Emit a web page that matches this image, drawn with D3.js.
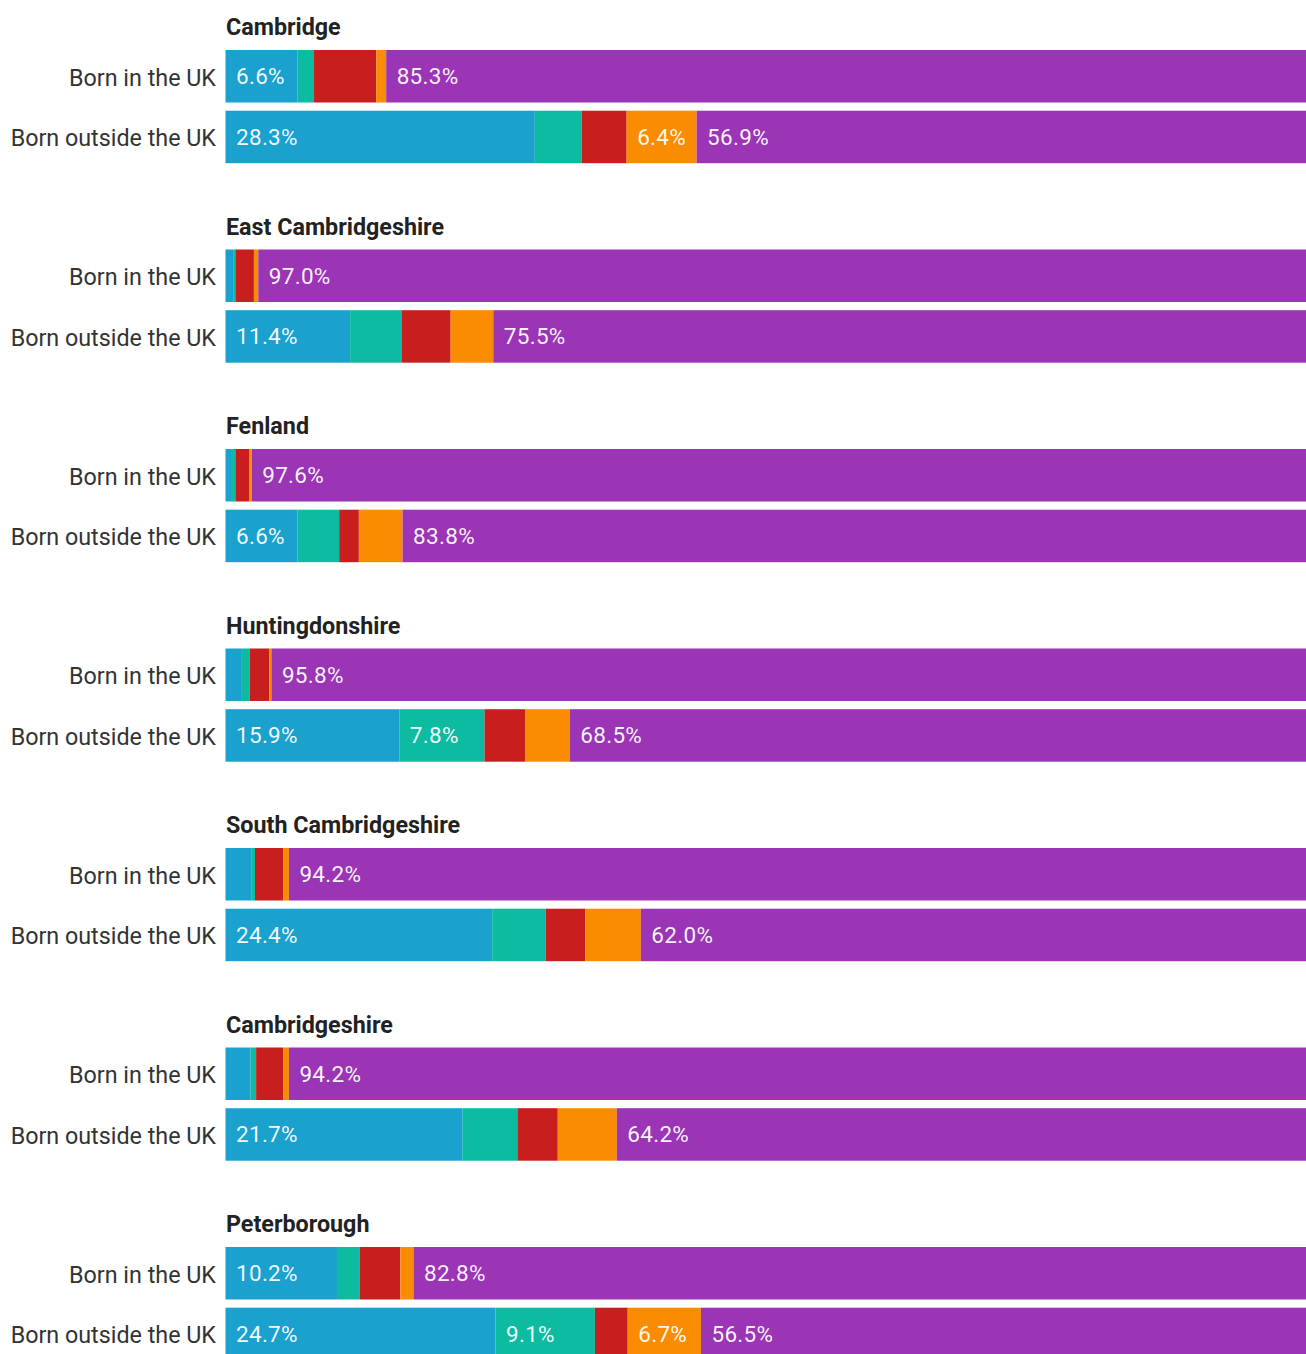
<!DOCTYPE html>
<html>
<head>
<meta charset="utf-8">
<script src="https://cdn.jsdelivr.net/npm/d3@7"></script>
<style>
  html, body { margin: 0; padding: 0; background: #fff; }
  svg { display: block; font-family: Roboto, "Noto Sans", sans-serif; }
</style>
</head>
<body>
<svg id="chart" width="1306" height="1354"></svg>
<script>
// Areas and the two birthplace rows shown for each
const areas = ["Cambridge", "East Cambridgeshire", "Fenland", "Huntingdonshire",
               "South Cambridgeshire", "Cambridgeshire", "Peterborough"];
const rows = ["Born in the UK", "Born outside the UK"];
const groups = ["Asian", "Black", "Mixed", "Other", "White"];

// Percentages per group, in area order, two rows per area (UK, outside UK)
const asian = [6.6, 28.3, 0.7, 11.4, 0.5, 6.6, 1.5, 15.9, 2.4, 24.4, 2.3, 21.7, 10.2, 24.7];
const black = [1.5, 4.3, 0.2, 4.7, 0.4, 3.8, 0.7, 7.8, 0.3, 4.9, 0.5, 5.0, 2.1, 9.1];
const mixed = [5.7, 4.1, 1.7, 4.5, 1.3, 1.8, 1.8, 3.7, 2.6, 3.6, 2.5, 3.7, 3.7, 3.0];
const other = [0.9, 6.4, 0.4, 3.9, 0.2, 4.0, 0.2, 4.1, 0.5, 5.1, 0.5, 5.4, 1.2, 6.7];
const white = [85.3, 56.9, 97.0, 75.5, 97.6, 83.8, 95.8, 68.5, 94.2, 62.0, 94.2, 64.2, 82.8, 56.5];

const colors = ["#1ba1ce", "#0dbba0", "#c81e1e", "#f98c00", "#9b35b6"];

const table = [];
areas.forEach((a, i) => rows.forEach((r, j) => {
  const k = i * 2 + j;
  table.push({ area: a, row: r, Asian: asian[k], Black: black[k], Mixed: mixed[k], Other: other[k], White: white[k] });
}));

const svg = d3.select("#chart");

const x = d3.scaleLinear().domain([0, 100]).range([225.5, 1318.5]);

const groupStep = 199.5, barH = 52.5, barGap = 8.2, top0 = 50;
const y = d3.scaleOrdinal().domain(rows).range([0, barH + barGap]);

const series = d3.stack().keys(groups)(table);

const g = svg.selectAll("g.area")
  .data(areas)
  .join("g")
  .attr("class", "area")
  .attr("transform", (d, i) => `translate(0,${top0 + i * groupStep})`);

// Area titles
g.append("text")
  .attr("x", 226)
  .attr("y", -15)
  .attr("font-size", 23.3)
  .attr("font-weight", 700)
  .attr("fill", "#222")
  .text(d => d);

// Row labels
g.selectAll("text.row")
  .data(rows)
  .join("text")
  .attr("class", "row")
  .attr("x", 216)
  .attr("y", r => y(r) + barH / 2 + 9.5)
  .attr("text-anchor", "end")
  .attr("font-size", 23.3)
  .attr("fill", "#333")
  .text(r => r);

// Stacked segments and their value labels
series.forEach((s, si) => {
  s.forEach(seg => {
    const d = seg.data;
    const ai = areas.indexOf(d.area);
    const gy = top0 + ai * groupStep + y(d.row);
    svg.append("rect")
      .attr("x", x(seg[0]))
      .attr("y", gy)
      .attr("width", x(seg[1]) - x(seg[0]))
      .attr("height", barH)
      .attr("fill", colors[si]);
    const v = d[groups[si]];
    if (v >= 6) {
      svg.append("text")
        .attr("x", x(seg[0]) + 10.5)
        .attr("y", gy + barH / 2 + 7.8)
        .attr("font-size", 22.5)
        .attr("fill", "#fff")
        .attr("fill-opacity", 0.95)
        .attr("letter-spacing", 0.3)
        .text(v.toFixed(1) + "%");
    }
  });
});
</script>
</body>
</html>
